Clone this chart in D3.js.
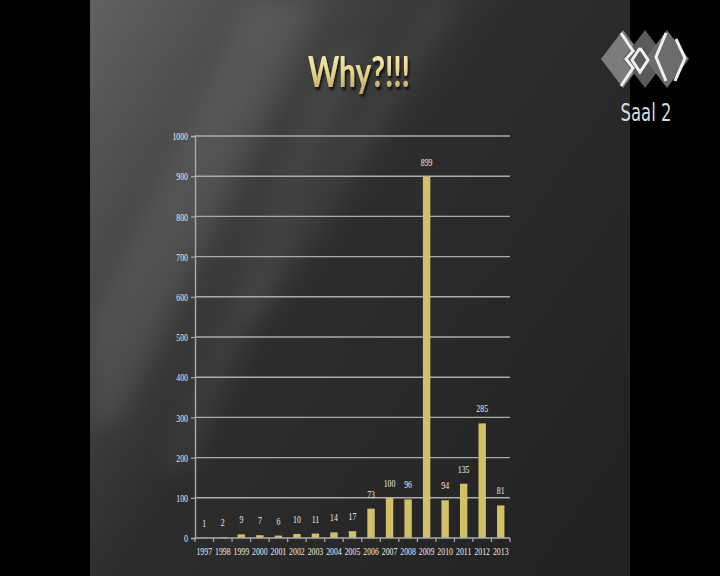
<!DOCTYPE html>
<html><head><meta charset="utf-8">
<script src="https://cdn.jsdelivr.net/npm/d3@7"></script>
<style>html,body{margin:0;padding:0;background:#000;}svg{display:block;}</style>
</head><body>
<svg id="c" width="720" height="576"></svg>
<script>
const years = ["1997","1998","1999","2000","2001","2002","2003","2004","2005","2006","2007","2008","2009","2010","2011","2012","2013"];
const counts = [1,2,9,7,6,10,11,14,17,73,100,96,899,94,135,285,81];
const yTicks = [0,100,200,300,400,500,600,700,800,900,1000];
const titleText = "Why?!!!";
const logoText = "Saal 2";

const svg = d3.select("#c");
const defs = svg.append("defs");

const bg = defs.append("linearGradient").attr("id","bg").attr("x1","0").attr("y1","0").attr("x2","1").attr("y2","0.75");
[[0,"#616161"],[0.25,"#474747"],[0.5,"#2d2d2d"],[1,"#232323"]].forEach(s=>bg.append("stop").attr("offset",s[0]).attr("stop-color",s[1]));
const blur = defs.append("filter").attr("id","blur").attr("x","-50%").attr("y","-50%").attr("width","200%").attr("height","200%");
blur.append("feGaussianBlur").attr("stdDeviation",12);

const gold = defs.append("linearGradient").attr("id","gold").attr("x1","0").attr("y1","0").attr("x2","0").attr("y2","1");
[[0,"#fbf3c4"],[0.5,"#e8d690"],[1,"#b89e55"]].forEach(s=>gold.append("stop").attr("offset",s[0]).attr("stop-color",s[1]));
const sh = defs.append("filter").attr("id","tsh").attr("x","-20%").attr("y","-20%").attr("width","140%").attr("height","160%");
sh.append("feDropShadow").attr("dx",2).attr("dy",3).attr("stdDeviation",1.5).attr("flood-color","#000").attr("flood-opacity",0.8);

svg.append("rect").attr("width",720).attr("height",576).attr("fill","#000");
const slide = svg.append("g");
defs.append("clipPath").attr("id","sclip").append("rect").attr("x",90).attr("y",0).attr("width",540).attr("height",576);
slide.attr("clip-path","url(#sclip)");
slide.append("rect").attr("x",90).attr("y",0).attr("width",540).attr("height",576).attr("fill","url(#bg)");
const streaks = [
  "M250,0 L320,0 L120,420 L90,430 L90,330 Z",
  "M330,60 L370,40 L190,470 L160,470 Z",
  "M430,0 L465,0 L260,320 L235,320 Z"
];
slide.selectAll("path.st").data(streaks).join("path").attr("d",d=>d)
  .attr("fill","#ffffff").attr("opacity",(d,i)=>[0.08,0.06,0.05][i]).attr("filter","url(#blur)");

// title
const title = svg.append("text").attr("x",0).attr("y",0)
  .attr("font-family","Lato, 'Open Sans', sans-serif").attr("font-size",42).attr("font-weight",700)
  .attr("fill","url(#gold)").attr("filter","url(#tsh)").attr("text-anchor","middle").text(titleText);
{
  const w = title.node().getComputedTextLength();
  title.attr("transform",`translate(359,87) scale(${102/w},1)`);
}

// logo
const logo = svg.append("g");
const dcx = [623,645,667], dcy = 59, hw = 22, hh = 29;
const dFill = ["#7c7c7c","#5b5b5b","#6c6c6c"];
logo.selectAll("path.dm").data(dcx).join("path")
  .attr("d",c=>`M${c-hw},${dcy} L${c},${dcy-hh} L${c+hw},${dcy} L${c},${dcy+hh} Z`)
  .attr("fill",(c,i)=>dFill[i]);
const whiteLines = [
  [[621,33],[633,51],[626,59],[633,68],[621,86]],
  [[640,48],[648,60],[640,72],[632,60],[640,48]],
  [[666,33],[656,57],[666,81]],
  [[676,39],[685,58],[675,81]]
];
logo.selectAll("path.wl").data(whiteLines).join("path")
  .attr("d",d=>d3.line()(d)).attr("fill","none").attr("stroke","#efefef").attr("stroke-width",3).attr("stroke-linejoin","miter");
const lt = logo.append("text").attr("font-family","'DejaVu Sans Condensed','DejaVu Sans',sans-serif")
  .attr("font-size",25).attr("fill","#d8d8d8").attr("text-anchor","middle").text(logoText);
{
  const w = lt.node().getComputedTextLength();
  lt.attr("transform",`translate(646,121) scale(${51/w},1)`);
}

// chart
const x = d3.scaleBand().domain(years).range([195,510]).paddingInner(0.6).paddingOuter(0.3);
const y = d3.scaleLinear().domain([0,1000]).range([538,136]);
const gridCol = "#ababab";
const FS = 11, SX = 0.71;
const txtCol = "#ececec";

const g = svg.append("g");
g.selectAll("line.grid").data(yTicks.filter(t=>t>0)).join("line")
  .attr("x1",195).attr("x2",510).attr("y1",d=>y(d)).attr("y2",d=>y(d))
  .attr("stroke",gridCol).attr("stroke-width",1.4);

const yAx = g.append("g").attr("transform","translate(195,0)")
  .call(d3.axisLeft(y).tickValues(yTicks).tickSize(4).tickPadding(5).tickFormat(d3.format("d")));
yAx.select(".domain").attr("stroke",gridCol).attr("stroke-width",1.4);
yAx.selectAll(".tick line").attr("stroke",gridCol).attr("stroke-width",1.2);
yAx.selectAll(".tick text").attr("fill",txtCol).attr("font-family","'Liberation Serif','Times New Roman',serif")
  .attr("font-size",FS).attr("transform",`scale(${SX},1)`).attr("x",-7/SX).attr("dy","0.34em");

g.selectAll("rect.bar").data(years).join("rect")
  .attr("x",d=>x(d)).attr("width",x.bandwidth())
  .attr("y",(d,i)=>y(counts[i])).attr("height",(d,i)=>y(0)-y(counts[i]))
  .attr("fill","#d2bf68");

g.append("line").attr("x1",195).attr("x2",510).attr("y1",y(0)).attr("y2",y(0)).attr("stroke",gridCol).attr("stroke-width",1.4);
const bounds = years.map(d=>x(d)+x.bandwidth()/2-x.step()/2).concat([x(years[years.length-1])+x.bandwidth()/2+x.step()/2]);
g.selectAll("line.xt").data(bounds).join("line")
  .attr("x1",d=>d).attr("x2",d=>d).attr("y1",y(0)).attr("y2",y(0)+4).attr("stroke",gridCol).attr("stroke-width",1.2);
const xAx = g.append("g").attr("transform",`translate(0,${y(0)})`)
  .call(d3.axisBottom(x).tickSize(0).tickPadding(9));
xAx.select(".domain").remove();
xAx.selectAll(".tick text").attr("fill",txtCol).attr("font-family","'Liberation Serif','Times New Roman',serif")
  .attr("font-size",FS).attr("transform",`scale(${SX},1)`);

g.selectAll("text.val").data(years).join("text")
  .attr("transform",(d,i)=>`translate(${x(d)+x.bandwidth()/2},${y(counts[i])-11}) scale(${SX},1)`)
  .attr("text-anchor","middle").attr("fill",txtCol)
  .attr("font-family","'Liberation Serif','Times New Roman',serif").attr("font-size",FS)
  .text((d,i)=>counts[i]);
</script>
</body></html>
